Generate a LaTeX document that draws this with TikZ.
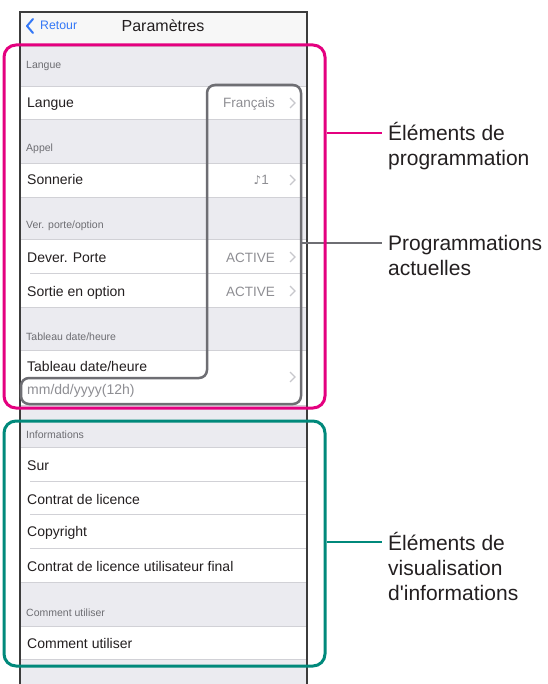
\documentclass[tikz,border=0pt]{standalone}
\usepackage{fontspec}
\setmainfont{Liberation Sans}
\newfontfamily\notefont{DejaVu Sans}
\usepackage{tikz}

\definecolor{pinkc}{HTML}{E4007F}
\definecolor{tealc}{HTML}{00897B}
\definecolor{curgray}{HTML}{6E6E73}
\definecolor{bggray}{HTML}{EBEBF0}
\definecolor{navgray}{HTML}{F7F7F7}
\definecolor{sepgray}{HTML}{D1D1D6}
\definecolor{hdrgray}{HTML}{6D6D72}
\definecolor{valgray}{HTML}{8E8E93}
\definecolor{chevgray}{HTML}{C7C7CC}
\definecolor{iosblue}{HTML}{3478F6}
\definecolor{txtdark}{HTML}{231F20}
\definecolor{framegray}{HTML}{3C3C3C}

\begin{document}
\begin{tikzpicture}[x=1pt,y=-1pt,
    rowlbl/.style={anchor=base west, inner sep=0, text=txtdark, font=\fontsize{14}{17}\selectfont},
    hdrlbl/.style={anchor=base west, inner sep=0, text=hdrgray, font=\fontsize{10.5}{13}\selectfont},
    vallbl/.style={anchor=base east, inner sep=0, text=valgray, font=\fontsize{13.5}{16}\selectfont},
    callout/.style={anchor=base west, inner sep=0, align=left, text=txtdark, font=\fontsize{21}{25}\selectfont},
    sep/.style={draw=sepgray, line width=0.8pt},
    chev/.style={draw=chevgray, line width=1.2pt},
    groupframe/.style={draw, rounded corners=12pt, line width=3pt, minimum width=321pt}]
    \useasboundingbox (0,0) rectangle (547,684);

    % Screen:
    % The grey background goes down to the lower edge, the white rows are put on top of it
    \fill[bggray] (20,46) rectangle (307,684);
    \fill[navgray] (20,12) rectangle (307,46);
    \draw[sep] (20,46) -- (307,46);
    \foreach \top/\bot in {86/119,163/197,239/307,350/405,447/582,626/659}{%
        \fill[white] (20,\top) rectangle (307,\bot);
        \draw[sep] (20,\top) -- (307,\top);
        \draw[sep] (20,\bot) -- (307,\bot);
    }
    % Separators inside a group start a little to the right:
    \foreach \y in {273,481,514,548}
        \draw[sep] (30,\y) -- (307,\y);

    % Navigation bar:
    \draw[iosblue, line width=2pt, line cap=round, line join=round] (33,19) -- (27,26) -- (33,33);
    \node[anchor=base west, inner sep=0, text=iosblue, font=\fontsize{12.3}{15}\selectfont] (retour) at (40,30) {Retour};
    \node[anchor=base, inner sep=0, text=txtdark, font=\fontsize{16}{19}\selectfont] (titre) at (163,32) {Paramètres};

    % Section headers and rows:
    \node[hdrlbl] (hlangue) at (26,69)  {Langue};
    \node[rowlbl] (rlangue) at (27,108) {Langue};
    \node[vallbl] (vlangue) at (275,108) {Français};
    \node[hdrlbl] (happel) at (26,152) {Appel};
    \node[rowlbl] (rsonnerie) at (27,185) {Sonnerie};
    \node[vallbl] (vsonnerie) at (269,185) {{\notefont\fontsize{12}{14}\selectfont ♪}1};
    \node[hdrlbl] (hporte) at (26,229) {Ver. porte/option};
    \node[rowlbl] (rdever) at (27,262) {Dever. Porte};
    \node[vallbl] (vdever) at (275,262) {ACTIVE};
    \node[rowlbl] (rsortie) at (27,296) {Sortie en option};
    \node[vallbl] (vsortie) at (275,296) {ACTIVE};
    \node[hdrlbl] (htableau) at (26,340) {Tableau date/heure};
    \node[rowlbl] (rtableau) at (27,371) {Tableau date/heure};
    \node[rowlbl, text=valgray] (vtableau) at (27,394) {mm/dd/yyyy(12h)};
    \node[hdrlbl] (hinfo) at (26,438) {Informations};
    \node[rowlbl] (rsur) at (27,470) {Sur};
    \node[rowlbl] (rcontrat) at (27,504) {Contrat de licence};
    \node[rowlbl] (rcopy) at (27,536) {Copyright};
    \node[rowlbl] (rfinal) at (27,571) {Contrat de licence utilisateur final};
    \node[hdrlbl] (hcomment) at (26,616) {Comment utiliser};
    \node[rowlbl] (rcomment) at (27,648) {Comment utiliser};

    % Chevrons at the end of the rows that can be opened:
    \foreach \y in {103,180,257,291,377}
        \draw[chev] (290,\y-5) -- (295,\y) -- (290,\y+5);

    % Phone outline:
    \draw[framegray, line width=1.5pt] (20,684) -- (20,12) -- (307,12) -- (307,684);

    % Callout texts:
    % The base of a node with several lines is the base of its last line, so the
    % connector ends are shifted up by one line (25pt) per extra line.
    \node[callout] (prog) at (388,166) {Éléments de\\programmation};
    \node[callout] (cur)  at (388,276) {Programmations\\actuelles};
    \node[callout] (info) at (388,600) {Éléments de\\visualisation\\d\textquotesingle informations};
    \coordinate (progend) at ([shift={(-6,-33)}]prog.base west);
    \coordinate (curend)  at ([shift={(-6,-33)}]cur.base west);
    \coordinate (infoend) at ([shift={(-6,-58)}]info.base west);

    % Box round the current settings, it has a notch at the bottom for the date format:
    \draw[curgray, line width=2.5pt, rounded corners=8pt]
        (207,85) coordinate (curtl) -- (301,85) -- (301,404) -- (21,404) -- (21,378) -- (207,378) -- cycle;
    \coordinate (curedge) at (302,243);
    \draw[curgray, line width=2.5pt] (curedge |- curend) -- (curend);

    % Group frames (drawn last so the pink one lies over the grey connector):
    \node[groupframe, pinkc, minimum height=363pt] (progbox) at (164.5,226.5) {};
    \node[groupframe, tealc, minimum height=245pt] (infobox) at (164.5,543.5) {};
    \draw[pinkc, line width=2.5pt] (progbox.east |- progend) -- (progend);
    \draw[tealc, line width=2.5pt] (infobox.east |- infoend) -- (infoend);
\end{tikzpicture}
\end{document}
